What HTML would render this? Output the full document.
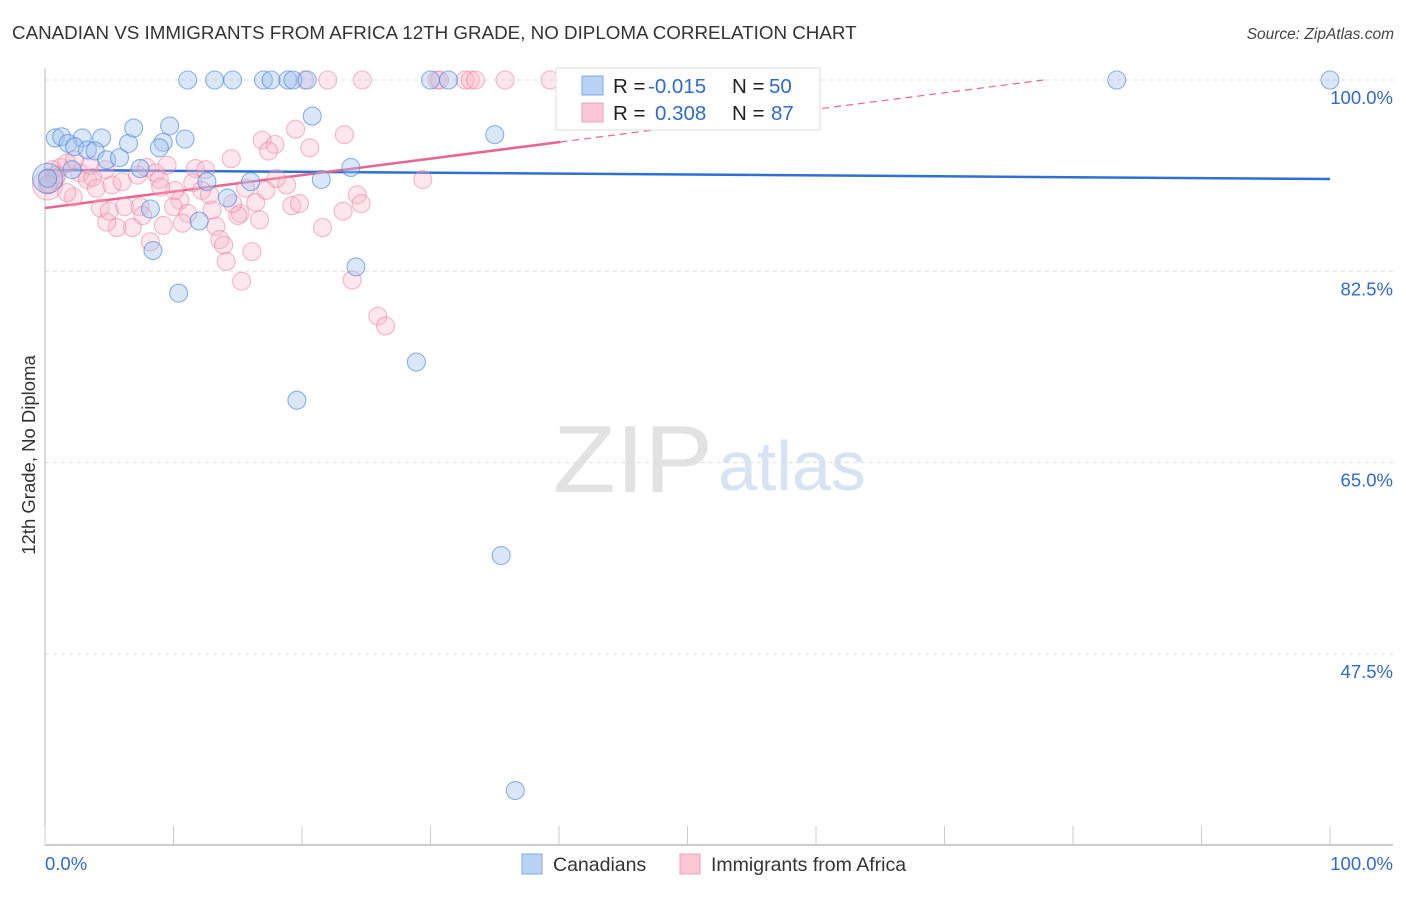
<!DOCTYPE html>
<html><head><meta charset="utf-8"><style>
body{margin:0;background:#fff;font-family:"Liberation Sans",sans-serif;}
svg text{font-family:"Liberation Sans",sans-serif;}
</style></head><body>
<svg id="chart" width="1406" height="892">
<text x="12" y="39" font-size="18.8" fill="#333">CANADIAN VS IMMIGRANTS FROM AFRICA 12TH GRADE, NO DIPLOMA CORRELATION CHART</text>
<text x="1394" y="39" font-size="15.5" fill="#444" font-style="italic" text-anchor="end">Source: ZipAtlas.com</text>
<g>
<text x="553" y="492" font-size="96" fill="#e2e2e2" font-family="Liberation Serif, serif" textLength="160" lengthAdjust="spacingAndGlyphs">ZIP</text>
<text x="718" y="490" font-size="70" fill="#d5e3f5">atlas</text>
</g>
<g id="grid"></g><g id="axes"></g><g id="lines"></g><g id="pts"></g>
<text transform="translate(35,455) rotate(-90)" font-size="18.5" fill="#333" text-anchor="middle">12th Grade, No Diploma</text>
<g>
<rect x="556" y="68" width="264" height="62" fill="#fff" stroke="#ddd"/>
<rect x="582" y="76" width="21" height="19" fill="#b9d3f5" stroke="#7ea8e6"/>
<rect x="582" y="103" width="21" height="19" fill="#fcc8d6" stroke="#eca0b6"/>
<text x="613" y="93" font-size="20.5" fill="#222">R =</text>
<text x="648" y="93" font-size="20.5" fill="#2f6ad0">-0.015</text>
<text x="732" y="93" font-size="20.5" fill="#222">N =</text>
<text x="769" y="93" font-size="20.5" fill="#2f6ad0">50</text>
<text x="613" y="120" font-size="20.5" fill="#222">R =</text>
<text x="655" y="120" font-size="20.5" fill="#2f6ad0">0.308</text>
<text x="732" y="120" font-size="20.5" fill="#222">N =</text>
<text x="771" y="120" font-size="20.5" fill="#2f6ad0">87</text>
</g>
<g>
<rect x="522" y="854" width="20" height="20" fill="#b9d3f5" stroke="#7ea8e6"/>
<text x="553" y="871" font-size="19.5" fill="#333">Canadians</text>
<rect x="680" y="854" width="20" height="20" fill="#fcc8d6" stroke="#eca0b6"/>
<text x="711" y="871" font-size="19.5" fill="#333">Immigrants from Africa</text>
</g>
</svg>
<script>
const yTicks=[100,82.5,65,47.5];
const yTickLabels=["100.0%","82.5%","65.0%","47.5%"];
const xTickLabels=["0.0%","100.0%"];
const blueX=[0.8,1.3,1.8,2.9,2.3,3.3,4.4,3.9,4.8,5.8,6.5,6.9,7.4,9.2,8.9,9.7,10.9,8.2,8.4,10.4,12.6,14.2,16.0,12.0,11.1,13.2,14.6,17.0,17.6,18.9,19.3,20.4,20.8,21.5,23.8,24.2,19.6,28.9,30.0,31.4,35.0,35.5,36.6,47.7,56.5,83.4,100,0.2,40.9,2.1];
const blueY=[94.7,94.8,94.2,94.7,93.9,93.6,94.7,93.5,92.7,92.9,94.2,95.6,91.9,94.3,93.8,95.8,94.6,88.2,84.4,80.5,90.7,89.2,90.7,87.1,100,100,100,100,100,100,100,100,96.7,90.9,92.0,82.9,70.7,74.2,100,100,95.0,56.5,35.0,100,96.7,100,100,91.0,100,91.8];
const pinkX=[16.9,17.9,17.4,19.5,20.6,23.3,14.5,11.7,12.5,11.5,12.2,10.5,10.0,11.1,10.7,9.2,13.0,13.3,13.6,13.9,14.1,15.3,16.1,15.2,15.0,16.4,16.7,17.2,18.8,19.2,19.8,21.6,23.2,24.3,24.6,23.9,29.4,8.2,6.8,5.6,4.8,4.3,6.2,7.4,7.6,2.2,1.7,2.7,3.3,3.7,4.0,5.2,6.0,7.2,7.9,8.6,8.9,9.5,0.6,1.2,1.7,14.6,15.6,22.0,24.7,20.2,30.5,30.7,32.7,33.1,33.5,35.8,39.3,25.9,26.5,0.2,0.8,3.5,4.7,10.1,0.9,2.3,0.3,18.0,12.8,5.0,9.0];
const pinkY=[94.5,94.1,93.5,95.5,93.8,95.0,92.8,91.9,91.8,90.6,89.9,89.0,88.4,87.8,86.9,86.7,88.1,86.6,85.4,84.9,83.4,81.6,84.3,87.8,87.6,88.8,87.2,89.9,90.4,88.5,88.7,86.5,88.0,89.5,88.7,81.7,90.9,85.2,86.5,86.5,87.0,88.3,88.4,88.4,87.6,89.3,89.7,91.5,90.9,91.1,90.1,90.4,90.7,91.3,92.0,91.5,90.9,92.2,91.8,92.0,92.4,88.7,90.1,100,100,100,100,100,100,100,100,100,100,78.4,77.5,90.4,90.9,92.2,91.8,89.9,91.3,92.7,90.5,91.0,89.5,88.0,90.2];
const blueTrend=[91.77,90.94];
const pinkTrend=[88.29,94.33,40.1];
const NS="http://www.w3.org/2000/svg";
const X0=45,X1=1330,Y100=80,PXPER=191.3/17.5;
const sx=v=>X0+(v/100)*(X1-X0);
const sy=v=>Y100+(100-v)*PXPER;
function mk(tag,attrs,parent){const e=document.createElementNS(NS,tag);for(const k in attrs)e.setAttribute(k,attrs[k]);document.getElementById(parent).appendChild(e);return e;}
yTicks.forEach((t,i)=>{
  const g=mk('line',{x1:X0,x2:1393,y1:sy(t),y2:sy(t),stroke:'#ddd','stroke-dasharray':'4,4'},'grid');
  
  
  const l=mk('text',{x:1393,y:sy(t)+24,'font-size':18.5,fill:'#2f6ad0','text-anchor':'end'},'axes');
  l.textContent=yTickLabels[i];
  
  
});
let a=mk('line',{x1:X0,x2:X0,y1:68,y2:845,stroke:'#bbb'},'axes');


a=mk('line',{x1:X0,x2:1393,y1:845,y2:845,stroke:'#bbb','stroke-width':1.5},'axes');


for(let i=0;i<=10;i++){
  const t=mk('line',{x1:sx(i*10),x2:sx(i*10),y1:826,y2:845,stroke:'#ccc'},'axes');
  
  
}
[[0,'start',X0],[100,'end',1393]].forEach((d,i)=>{
  const l=mk('text',{x:d[2],y:870,'font-size':18.5,fill:'#2f6ad0','text-anchor':d[1]},'axes');
  l.textContent=xTickLabels[i];
  
  
});
function dot(x,y,fill,stroke,r){
  return mk('circle',{cx:sx(x),cy:sy(y),r:r,fill:fill,stroke:stroke,'stroke-width':1.1},'pts');
}
const pb=dot(0.2,90.4,'rgba(250,180,200,0.33)','rgba(232,120,150,0.5)',15);


pinkX.forEach((x,i)=>{
  const c=dot(x,pinkY[i],'rgba(250,180,200,0.33)','rgba(232,120,150,0.5)',9);
  
  
});
const bb=dot(0.2,91.0,'rgba(160,195,240,0.4)','rgba(70,130,215,0.6)',15);


blueX.forEach((x,i)=>{
  const c=dot(x,blueY[i],'rgba(160,195,240,0.4)','rgba(70,130,215,0.6)',9);
  
  
});
let ln=mk('line',{x1:sx(0),y1:sy(blueTrend[0]),x2:sx(100),y2:sy(blueTrend[1]),stroke:'#2f6fd6','stroke-width':2.5},'lines');


const slope=(pinkTrend[1]-pinkTrend[0])/pinkTrend[2];
ln=mk('line',{x1:sx(0),y1:sy(pinkTrend[0]),x2:sx(pinkTrend[2]),y2:sy(pinkTrend[1]),stroke:'#e8658f','stroke-width':2.5},'lines');


const xEnd=Math.min(100,(100-pinkTrend[0])/slope);
ln=mk('line',{x1:sx(pinkTrend[2]),y1:sy(pinkTrend[1]),x2:sx(xEnd),y2:sy(pinkTrend[0]+slope*xEnd),stroke:'#e8658f','stroke-width':1.2,'stroke-dasharray':'7,5'},'lines');


</script>
</body></html>
